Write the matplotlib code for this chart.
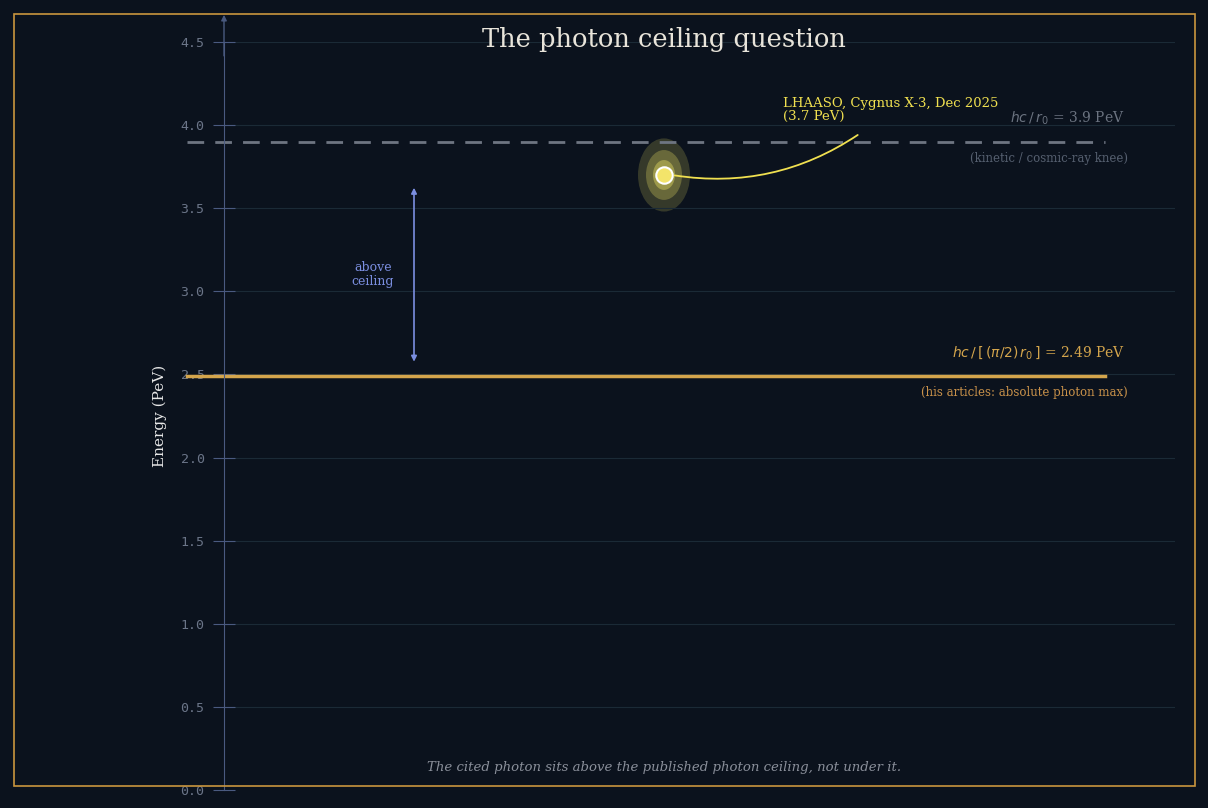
import matplotlib
matplotlib.use("Agg")
import matplotlib.pyplot as plt
from matplotlib.patches import Ellipse, Rectangle

yticks = [0.0, 0.5, 1.0, 1.5, 2.0, 2.5, 3.0, 3.5, 4.0, 4.5]
ceiling_kinetic = 3.9
ceiling_photon = 2.49
photon_energy = 3.7

BG = "#0b121d"
fig = plt.figure(figsize=(12.08, 8.08), dpi=100, facecolor=BG)
fig.patches.append(Rectangle((14/1208, 22/808), 1181/1208, 772/808, transform=fig.transFigure,
                             fill=False, ec="#c9953e", lw=1.2))
ax = fig.add_axes([224/1208, 18/808, 951/1208, 748/808], facecolor=BG)
ax.set_xlim(224, 1175)
ax.set_ylim(0, 4.5)
for s in ["top", "right", "bottom"]:
    ax.spines[s].set_visible(False)
ax.spines["left"].set_color("#4a5a80")
ax.set_xticks([])
ax.set_yticks(yticks)
ax.set_yticklabels([f"{v:.1f}" for v in yticks], family="DejaVu Sans Mono", color="#6b7588", fontsize=9.5)
ax.tick_params(axis="y", length=16, direction="inout", color="#4a5a80", pad=6)
ax.grid(axis="y", color="#1b2a36", lw=0.8)
ax.set_ylabel("Energy (PeV)", family="DejaVu Serif", color="#e8e8e8", fontsize=11, labelpad=10)
ax.annotate("", xy=(224, 4.68), xytext=(224, 4.4), annotation_clip=False,
            arrowprops=dict(arrowstyle="-|>", color="#4a5a80", lw=1, mutation_scale=8))

ax.plot([187, 1105], [ceiling_kinetic]*2, ls=(0, (6, 4)), color="#6e7582", lw=2, clip_on=False)
ax.plot([187, 1105], [ceiling_photon]*2, color="#d4a54c", lw=2.5, clip_on=False)

ax.text(1125, 4.04, r"$hc\,/\,r_0$ = 3.9 PeV", ha="right", va="center", color="#6b7380",
        fontsize=10, family="DejaVu Serif")
ax.text(1128, 3.8, "(kinetic / cosmic-ray knee)", ha="right", va="center", color="#566070",
        fontsize=8.5, family="DejaVu Serif")
ax.text(1125, 2.63, r"$hc\,/\,[\,(\pi/2)\,r_0\,]$ = 2.49 PeV", ha="right", va="center", color="#d4a54c",
        fontsize=10, family="DejaVu Serif")
ax.text(1128, 2.39, "(his articles: absolute photon max)", ha="right", va="center", color="#c8914a",
        fontsize=8.5, family="DejaVu Serif")

ax.annotate("", xy=(414, 3.64), xytext=(414, 2.56),
            arrowprops=dict(arrowstyle="<|-|>", color="#7b8ee0", lw=1.2, mutation_scale=8))
ax.text(373, 3.1, "above\nceiling", ha="center", va="center", color="#7b8ee0", fontsize=9,
        family="DejaVu Serif", linespacing=1.1)

for w, h, a in [(52, 0.44, 0.2), (36, 0.3, 0.3), (22, 0.18, 0.45)]:
    ax.add_patch(Ellipse((664, photon_energy), w, h, color="#e0d860", alpha=a, lw=0))
ax.scatter([664], [photon_energy], s=140, color="#f3e46a", ec="white", lw=1.5, zorder=5)
ax.annotate("", xy=(672, photon_energy), xytext=(860, 3.95),
            arrowprops=dict(arrowstyle="-", color="#f0e050", lw=1.3, connectionstyle="arc3,rad=-0.2"))
ax.text(783, 4.09, "LHAASO, Cygnus X-3, Dec 2025\n(3.7 PeV)", ha="left", va="center", color="#f0e050",
        fontsize=9.5, family="DejaVu Serif", linespacing=1.05)

fig.text(664/1208, 1-40/808, "The photon ceiling question", ha="center", va="center", color="#e8e4da",
         fontsize=18.5, family="DejaVu Serif")
fig.text(664/1208, 1-768/808, "The cited photon sits above the published photon ceiling, not under it.",
         ha="center", va="center", color="#8a8f9a", fontsize=9.5, family="DejaVu Serif", style="italic")
fig.savefig("out.png", dpi=100, facecolor=BG)
